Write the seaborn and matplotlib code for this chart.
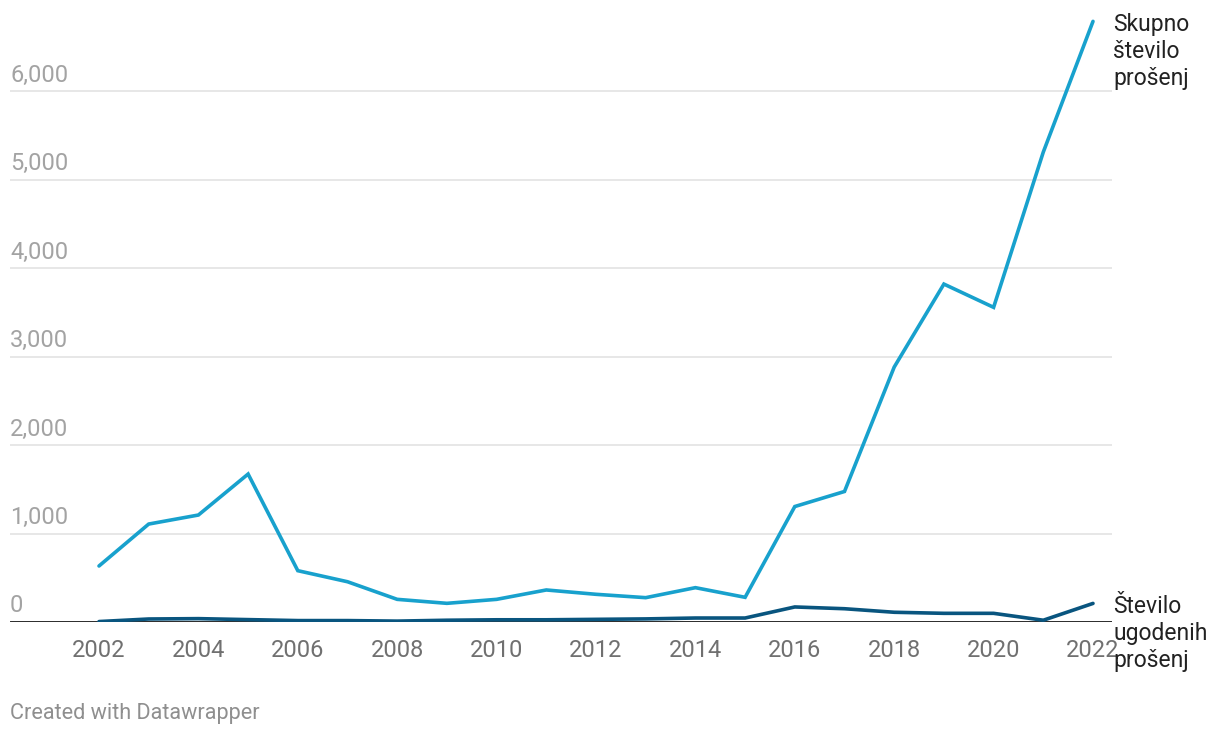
import matplotlib
matplotlib.use("Agg")
import matplotlib.pyplot as plt
import matplotlib.transforms as mtransforms
import seaborn as sns
import pandas as pd

years = list(range(2002, 2023))
skupno = [633, 1107, 1209, 1672, 580, 455, 256, 211, 256, 362, 313, 275, 388, 279,
          1305, 1475, 2881, 3819, 3556, 5311, 6788]
ugodene = [5, 34, 38, 27, 16, 16, 10, 20, 25, 25, 30, 35, 45, 45,
           170, 150, 110, 98, 98, 20, 210]
series_names = ["Skupno\nštevilo\nprošenj", "Število\nugodenih\nprošenj"]
colors = ["#18a1cd", "#09557f"]
xticks = list(range(2002, 2023, 2))
yticks = [0, 1000, 2000, 3000, 4000, 5000, 6000]

df = pd.DataFrame({
    "leto": years * 2,
    "vrednost": skupno + ugodene,
    "serija": [series_names[0]] * len(years) + [series_names[1]] * len(years),
})

sns.set_theme(style="white")
plt.rcParams["font.family"] = ["Roboto", "DejaVu Sans"]

fig = plt.figure(figsize=(12.2, 7.38), dpi=100)
W, H = 1220, 738
ax = fig.add_axes([10 / W, (H - 622) / H, (1112 - 10) / W, (622 - 15) / H])

sns.lineplot(data=df, x="leto", y="vrednost", hue="serija", palette=colors,
             linewidth=2.6, ax=ax, legend=False, solid_capstyle="round",
             solid_joinstyle="miter")

ax.set_xlim(2002 - 89 / 49.7, 2022 + 19 / 49.7)
ax.set_ylim(0, 6860)
ax.set_xlabel("")
ax.set_ylabel("")

for s in ax.spines.values():
    s.set_visible(False)

ax.set_yticks(yticks)
ax.set_yticklabels([])
ax.tick_params(axis="y", length=0, pad=0)
ax.yaxis.grid(True, color="#e3e3e3", linewidth=1.2)
ax.xaxis.grid(False)
ax.set_axisbelow(True)
ax.axhline(0, color="#1a1a1a", linewidth=2, zorder=1.5)

# y labels sit above their gridlines, left-aligned inside the plot
yoff = mtransforms.ScaledTranslation(0, 9.5 / 100, fig.dpi_scale_trans)
ytr = mtransforms.blended_transform_factory(ax.transAxes, ax.transData) + yoff
for v in yticks:
    ax.text(0, v, f"{v:,}", transform=ytr, ha="left", va="baseline",
            fontsize=17, color="#a3a3a3")

ax.set_xticks(xticks)
ax.set_xticklabels([str(x) for x in xticks])
ax.tick_params(axis="x", length=0, pad=12, labelsize=17, labelcolor="#707070")

# end labels
lab_off = mtransforms.ScaledTranslation(0, 8 / 100, fig.dpi_scale_trans)
for vals, name in [(skupno, series_names[0]), (ugodene, series_names[1])]:
    tr = mtransforms.blended_transform_factory(ax.transAxes, ax.transData) + lab_off
    ax.text(1.001, vals[-1], name, transform=tr, ha="left", va="top",
            fontsize=16.5, color="#222222", linespacing=1.21, clip_on=False)

fig.text(10 / W, 1 - 713 / H, "Created with Datawrapper", ha="left", va="center",
         fontsize=15.6, color="#8f8f8f")

fig.savefig("out.png", dpi=100)
